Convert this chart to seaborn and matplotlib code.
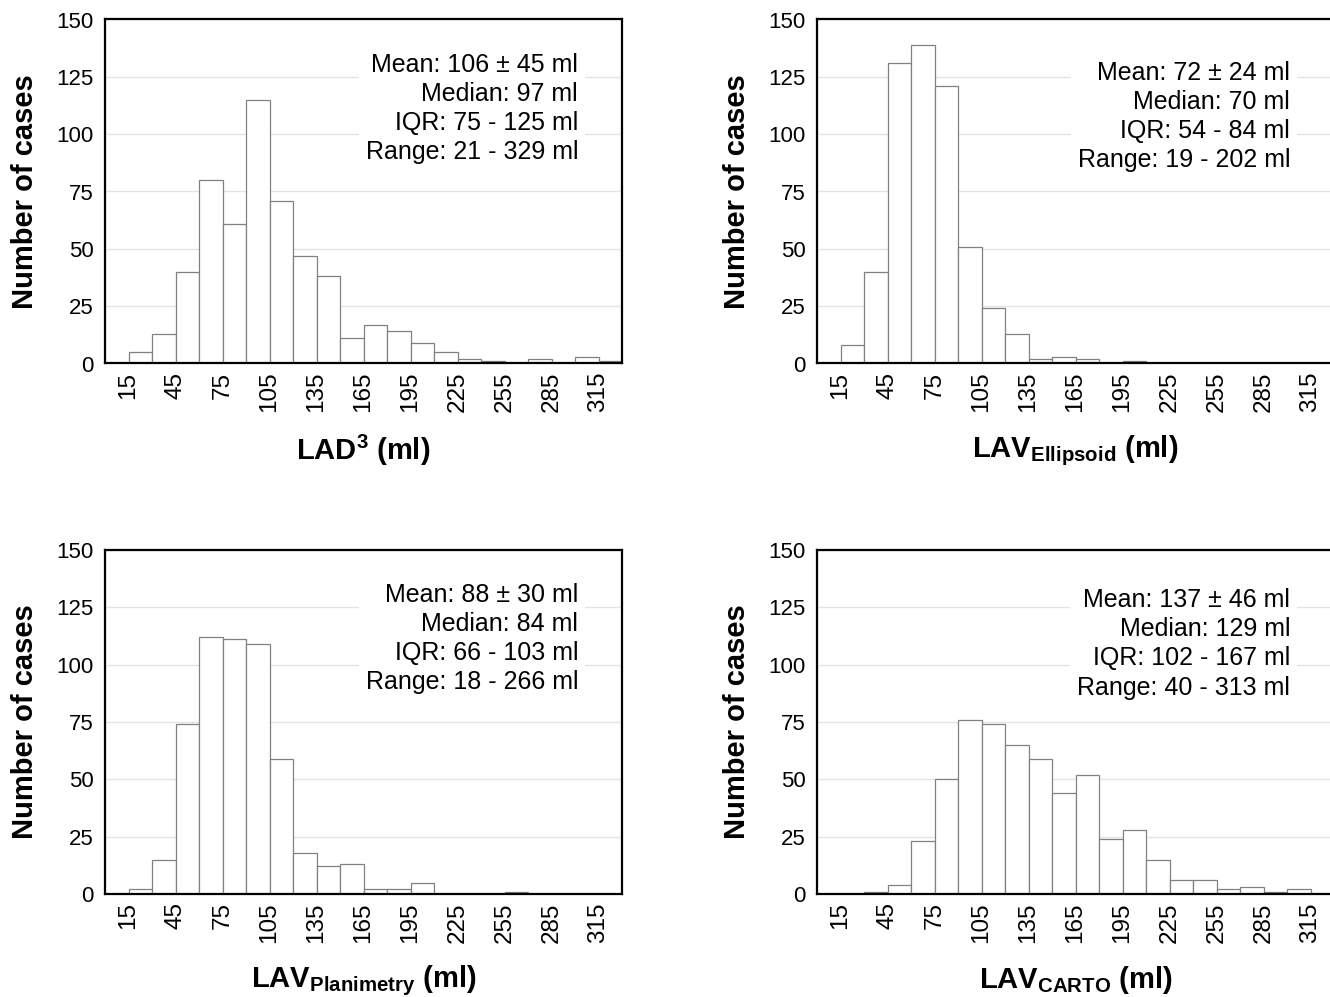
import numpy as np
import pandas as pd
import seaborn as sns
import matplotlib.pyplot as plt

# bins are 15 ml wide, starting at 15 ml (15-30, 30-45, ... 315-330)
bin_lefts = list(range(15, 330, 15))
tick_values = [15, 45, 75, 105, 135, 165, 195, 225, 255, 285, 315]
y_ticks = [0, 25, 50, 75, 100, 125, 150]

counts_lad3 = [5, 13, 40, 80, 61, 115, 71, 47, 38, 11, 17, 14, 9, 5, 2, 1, 0, 2, 0, 3, 1]
counts_ellipsoid = [8, 40, 131, 139, 121, 51, 24, 13, 2, 3, 2, 0, 1, 0, 0, 0, 0, 0, 0, 0, 0]
counts_planimetry = [2, 15, 74, 112, 111, 109, 59, 18, 12, 13, 2, 2, 5, 0, 0, 0, 1, 0, 0, 0, 0]
counts_carto = [0, 1, 4, 23, 50, 76, 74, 65, 59, 44, 52, 24, 28, 15, 6, 6, 2, 3, 1, 2, 0]

labels = ["LAD$^\\mathbf{3}$ (ml)",
          "LAV$_\\mathbf{Ellipsoid}$ (ml)",
          "LAV$_\\mathbf{Planimetry}$ (ml)",
          "LAV$_\\mathbf{CARTO}$ (ml)"]

stats_lad3 = ["Mean: 106 ± 45 ml", "Median: 97 ml", "IQR: 75 - 125 ml", "Range: 21 - 329 ml"]
stats_ellipsoid = ["Mean: 72 ± 24 ml", "Median: 70 ml", "IQR: 54 - 84 ml", "Range: 19 - 202 ml"]
stats_planimetry = ["Mean: 88 ± 30 ml", "Median: 84 ml", "IQR: 66 - 103 ml", "Range: 18 - 266 ml"]
stats_carto = ["Mean: 137 ± 46 ml", "Median: 129 ml", "IQR: 102 - 167 ml", "Range: 40 - 313 ml"]

sns.set_theme(style="whitegrid")
plt.rcParams["font.family"] = ["Liberation Sans", "DejaVu Sans"]
plt.rcParams["mathtext.fontset"] = "custom"
plt.rcParams["mathtext.rm"] = "Liberation Sans"
plt.rcParams["mathtext.bf"] = "Liberation Sans:bold"
plt.rcParams["text.color"] = "black"
plt.rcParams["axes.labelcolor"] = "black"
plt.rcParams["xtick.color"] = "black"
plt.rcParams["ytick.color"] = "black"

fig = plt.figure(figsize=(13.3, 9.97), dpi=100)

W, H = 1330, 997
ax_w, ax_h = 517 / W, 344 / H
positions = [
    (105 / W, 1 - 363.5 / H),
    (817 / W, 1 - 363.5 / H),
    (105 / W, 1 - 894 / H),
    (817 / W, 1 - 894 / H),
]
text_y = [0.742, 0.718, 0.742, 0.727]

panels = [
    (counts_lad3, stats_lad3),
    (counts_ellipsoid, stats_ellipsoid),
    (counts_planimetry, stats_planimetry),
    (counts_carto, stats_carto),
]

for i, (counts, stats) in enumerate(panels):
    ax = fig.add_axes([positions[i][0], positions[i][1], ax_w, ax_h])
    df = pd.DataFrame({"volume": bin_lefts, "n": counts})
    sns.histplot(data=df, x="volume", weights="n", binwidth=15, binrange=(15, 330),
                 stat="count", color="white", edgecolor="#808080", linewidth=0.9,
                 alpha=1, ax=ax)
    ax.set_xlim(0, 330)
    ax.set_ylim(0, 150)
    ax.set_xticks(tick_values)
    ax.set_xticklabels([str(v) for v in tick_values], rotation=90, fontsize=17.5)
    ax.set_yticks(y_ticks)
    ax.set_yticklabels([str(v) for v in y_ticks], fontsize=16)
    ax.tick_params(axis="both", length=0)
    ax.tick_params(axis="x", pad=6)
    ax.tick_params(axis="y", pad=8)
    ax.grid(axis="x", visible=False)
    ax.grid(axis="y", color="#e4e4e4", linewidth=1)
    for s in ax.spines.values():
        s.set_color("black")
        s.set_linewidth(1.6)
    ax.set_ylabel("Number of cases", fontsize=21, fontweight="bold", labelpad=13)
    ax.set_xlabel(labels[i], fontsize=21, fontweight="bold", labelpad=15)
    ax.text(0.915, text_y[i], "\n".join(stats), transform=ax.transAxes,
            ha="right", va="center", fontsize=18, linespacing=1.27,
            multialignment="right",
            bbox=dict(facecolor="white", edgecolor="none", pad=5), zorder=5)

fig.savefig("out.png", dpi=100)
